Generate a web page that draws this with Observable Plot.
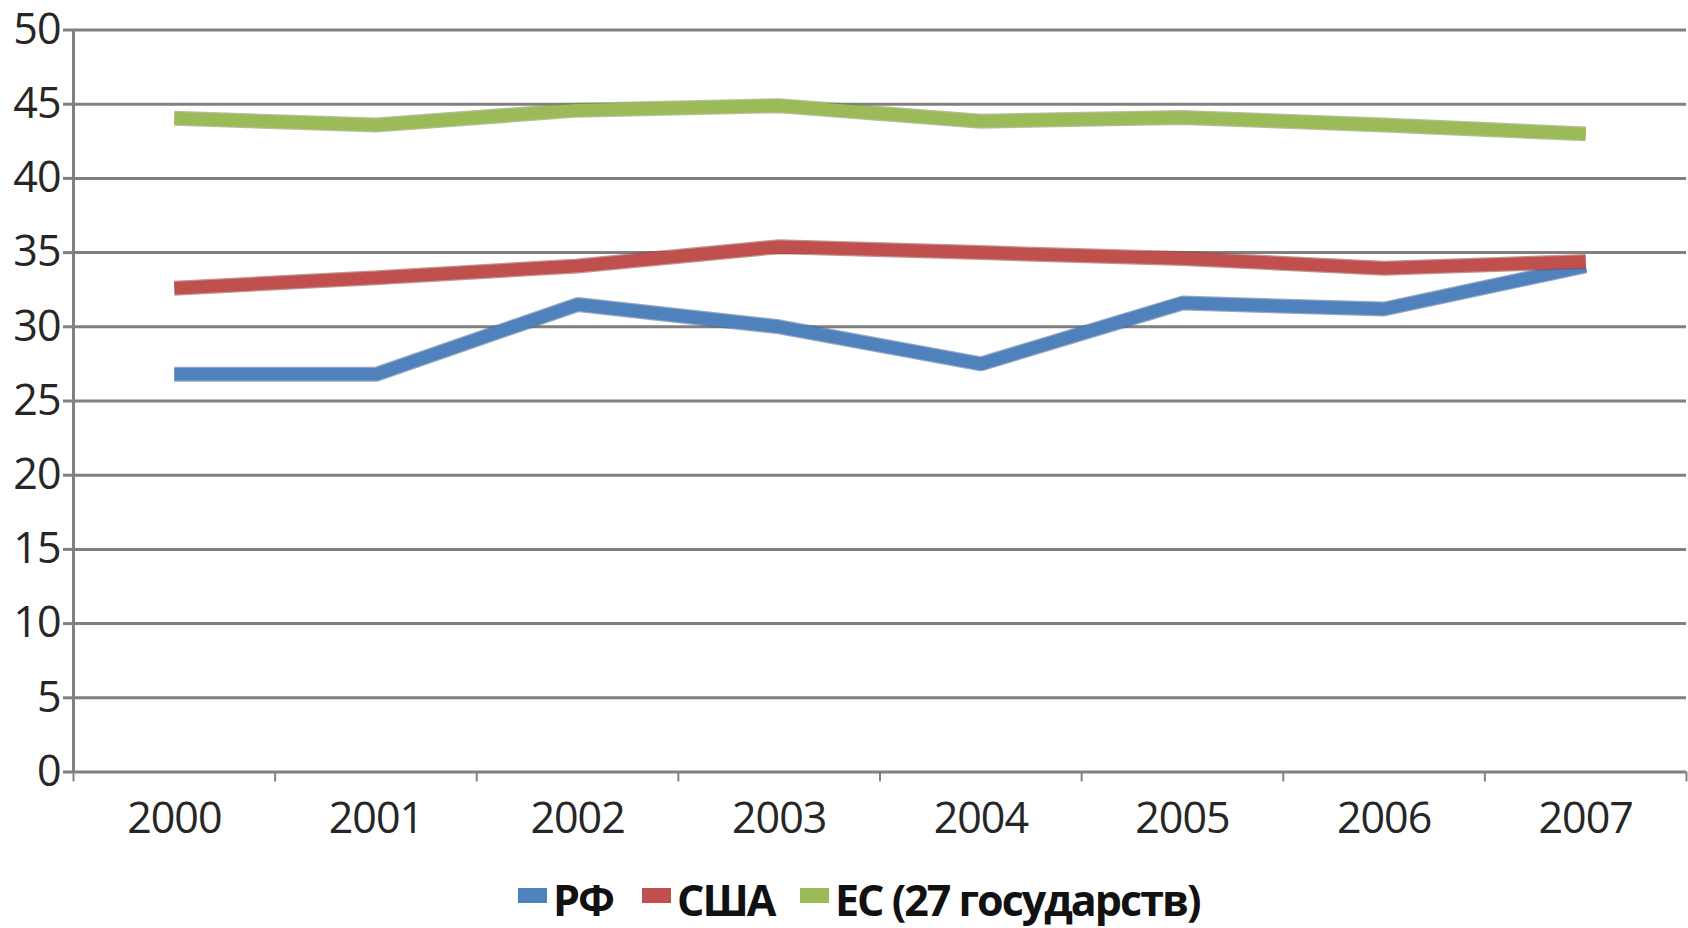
<!DOCTYPE html>
<html>
<head>
<meta charset="utf-8">
<script src="https://cdn.jsdelivr.net/npm/d3@7"></script>
<script src="https://cdn.jsdelivr.net/npm/@observablehq/plot@0.6"></script>
<style>
  html, body { margin: 0; padding: 0; background: #fff; }
  #chart svg { display: block; }
  #legend { position: relative; height: 68px; font-family: "Open Sans", sans-serif; font-weight: 700; font-size: 43px; color: #111; letter-spacing: -2px; }
  #legend .item { position: absolute; top: 0; display: flex; align-items: center; height: 68px; }
  #legend .sw { width: 29px; height: 15px; margin-right: 6px; margin-top: 2px; }
  #legend .txt { line-height: 1; margin-top: 10px; }
</style>
</head>
<body>
<div id="chart"></div>
<div id="legend"></div>
<script>
const years = [2000, 2001, 2002, 2003, 2004, 2005, 2006, 2007];
const rf  = [26.8, 26.8, 31.5, 30.0, 27.5, 31.6, 31.2, 34.1];
const usa = [32.6, 33.3, 34.1, 35.4, 35.0, 34.6, 33.95, 34.4];
const eu  = [44.05, 43.6, 44.6, 44.9, 43.85, 44.1, 43.6, 43.0];
const seriesNames = ["РФ", "США", "ЕС (27 государств)"];
const seriesColors = ["#4F81BD", "#C0504D", "#9BBB59"];
const yTicks = [0, 5, 10, 15, 20, 25, 30, 35, 40, 45, 50];
const legendLeft = [518, 642, 800];

const seriesValues = [rf, usa, eu];
const bounds = years.map(y => y - 0.5).concat([years[years.length - 1] + 0.5]);
const grid = "#808080";

const lineMarks = [];
seriesValues.forEach((vals, i) => {
  const rows = years.map((yr, j) => ({year: yr, value: vals[j]}));
  const col = seriesColors[i];
  lineMarks.push(Plot.line(rows, {x: "year", y: "value", stroke: d3.color(col).darker(0.8).formatHex(), strokeOpacity: 0.55, strokeWidth: 15, strokeLinecap: "butt", strokeLinejoin: "miter"}));
  lineMarks.push(Plot.line(rows, {x: "year", y: "value", stroke: col, strokeWidth: 12.5, strokeLinecap: "butt", strokeLinejoin: "miter"}));
});

const chart = Plot.plot({
  width: 1688,
  height: 860,
  marginTop: 29.5,
  marginBottom: 88.5,
  marginLeft: 73,
  marginRight: 2,
  style: {fontFamily: "Open Sans, sans-serif", fontSize: "43px", background: "#fff", overflow: "visible"},
  x: {domain: [bounds[0], bounds[bounds.length - 1]], label: null},
  y: {domain: [0, 50], label: null},
  marks: [
    Plot.ruleY(yTicks, {stroke: grid, strokeWidth: 3}),
    Plot.ruleX([bounds[0]], {stroke: grid, strokeWidth: 3}),
    Plot.axisY({ticks: yTicks, tickSize: 10, tickPadding: 3, stroke: grid, strokeWidth: 3, fill: "#262626", label: null}),
    Plot.axisX({ticks: bounds, tickSize: 10, stroke: grid, strokeWidth: 2, tickFormat: () => "", label: null}),
    Plot.axisX({ticks: years, tickSize: 0, tickPadding: 30, fill: "#262626", tickFormat: d => String(d), label: null}),
    ...lineMarks
  ]
});
chart.style.letterSpacing = "-1px";
document.getElementById("chart").appendChild(chart);

const legend = document.getElementById("legend");
seriesNames.forEach((name, i) => {
  const item = document.createElement("div");
  item.className = "item";
  item.style.left = legendLeft[i] + "px";
  const sw = document.createElement("div");
  sw.className = "sw";
  sw.style.background = seriesColors[i];
  const t = document.createElement("span");
  t.className = "txt";
  t.textContent = name;
  item.appendChild(sw);
  item.appendChild(t);
  legend.appendChild(item);
});
</script>
</body>
</html>
